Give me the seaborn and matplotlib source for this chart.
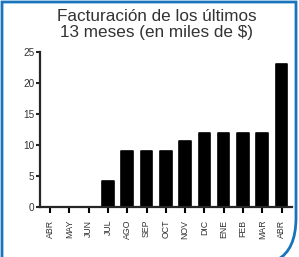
import matplotlib
matplotlib.use("Agg")
import matplotlib.pyplot as plt
import seaborn as sns
import pandas as pd
from matplotlib.path import Path
from matplotlib.patches import PathPatch

# datos
meses = ["ABR", "MAY", "JUN", "JUL", "AGO", "SEP", "OCT",
         "NOV", "DIC", "ENE", "FEB", "MAR", "ABR"]
facturacion = [0, 0, 0, 4.2, 9, 9, 9, 10.7, 12, 12, 12, 12, 23.1]
y_ticks = [0, 5, 10, 15, 20, 25]

df = pd.DataFrame({"pos": list(range(len(meses))), "valor": facturacion})

sns.set_style("ticks")
plt.rcParams["font.family"] = ["Liberation Sans", "DejaVu Sans"]

W, H = 299, 257
fig = plt.figure(figsize=(W / 100, H / 100), dpi=100)
ax = fig.add_axes([40 / W, 1 - 207.3 / H, (292 - 40) / W, (207.3 - 51.7) / H])

sns.barplot(data=df, x="pos", y="valor", color="black", width=0.6,
            edgecolor="black", linewidth=1.2, saturation=1, ax=ax)
for p in ax.patches:
    p.set_joinstyle("round")

ax.set_xlim(-0.52, 12.54)
ax.set_ylim(0, 25)
ax.set_yticks(y_ticks)
ax.set_xticks(range(len(meses)))
ax.set_xticklabels(meses, rotation=90, fontsize=6.3, color="#333333")
ax.tick_params(axis="x", length=4, width=1.5, pad=5, color="black")
ax.tick_params(axis="y", length=3, width=1.5, pad=1, labelsize=7.2,
               labelcolor="#333333")
ax.set_xlabel("")
ax.set_ylabel("")
for s in ["top", "right"]:
    ax.spines[s].set_visible(False)
for s in ["left", "bottom"]:
    ax.spines[s].set_linewidth(1.6)

fig.text(157 / W, 1 - 9 / H, "Facturación de los últimos\n13 meses (en miles de $)",
         ha="center", va="top", fontsize=12.3, color="#333333", linespacing=1.12)

# marco azul con esquina redondeada
pts = [(2, 260), (2, 2), (296, 2), (296, 218), (296, 250), (277, 260)]
codes = [Path.MOVETO, Path.LINETO, Path.LINETO, Path.LINETO, Path.CURVE3, Path.CURVE3]
pts = [(x / W, 1 - y / H) for x, y in pts]
fig.add_artist(PathPatch(Path(pts, codes), transform=fig.transFigure,
                         facecolor="none", edgecolor="#1a73bd", linewidth=2,
                         clip_on=False))

fig.savefig("out.png", dpi=100)
